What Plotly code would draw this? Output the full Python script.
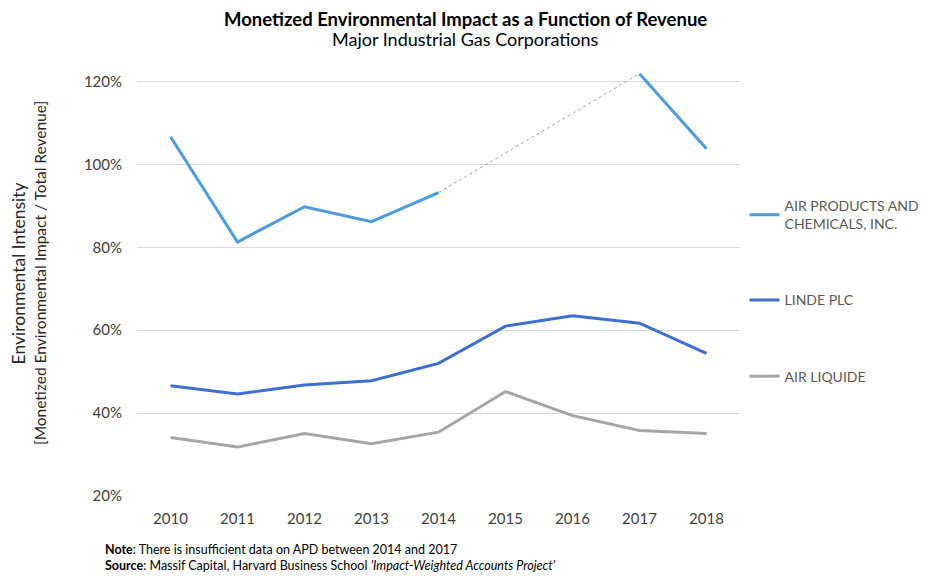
import plotly.graph_objects as go

# --- data (percent of revenue) ---
years = ["2010", "2011", "2012", "2013", "2014", "2015", "2016", "2017", "2018"]
apd = [106.7, 81.3, 89.8, 86.2, 93.2, None, None, 121.9, 103.8]
linde = [46.6, 44.6, 46.8, 47.8, 52.0, 61.0, 63.5, 61.7, 54.4]
air_liquide = [34.1, 31.8, 35.1, 32.6, 35.4, 45.2, 39.4, 35.8, 35.1]

names = ["AIR PRODUCTS AND<br>CHEMICALS, INC.", "LINDE PLC", "AIR LIQUIDE"]
colors = ["#4A9BE0", "#3F6ED3", "#A5A5A5"]
y_ticks = [20, 40, 60, 80, 100, 120]
y_tick_text = [f"{v}%" for v in y_ticks]

FONT = "Lato"

fig = go.Figure()

for i, series in enumerate([apd, linde, air_liquide]):
    fig.add_trace(go.Scatter(
        x=years, y=series, mode="lines", name=names[i],
        line=dict(color=colors[i], width=3),
        connectgaps=False, legendgroup=str(i),
    ))

# dotted bridge over the missing APD years
fig.add_trace(go.Scatter(
    x=[years[4], years[7]], y=[apd[4], apd[7]], mode="lines",
    line=dict(color="#A6A6A6", width=1, dash="dot"),
    showlegend=False, hoverinfo="skip",
))

# page has an 8px body margin, so the figure is sized to fit the window
fig.update_layout(
    width=923, height=574,
    margin=dict(l=129, r=191, t=57, b=86, autoexpand=False),
    plot_bgcolor="white", paper_bgcolor="white",
    font=dict(family=FONT, color="#404040", size=14),
    showlegend=True,
    legend=dict(
        xref="container", yref="container",
        x=0.798, y=0.683, xanchor="left", yanchor="top",
        font=dict(size=14, color="#595959"),
        tracegroupgap=55, itemwidth=30,
        bgcolor="rgba(0,0,0,0)",
    ),
    xaxis=dict(
        type="category", range=[-0.5, 8.5],
        showgrid=False, showline=False, ticks="",
        tickfont=dict(size=15, color="#404040"),
        ticklabelstandoff=12,
    ),
    yaxis=dict(
        range=[20, 124], tickvals=y_ticks, ticktext=y_tick_text,
        showgrid=True, gridcolor="#D9D9D9", gridwidth=1,
        zeroline=False, showline=False, ticks="",
        tickfont=dict(size=15, color="#404040"),
        ticklabelstandoff=14,
    ),
)

# axis title, two lines of different sizes
fig.add_annotation(
    text="Environmental Intensity", textangle=-90,
    xref="paper", yref="paper", x=-0.197, y=0.517, xanchor="center", yanchor="middle",
    showarrow=False, font=dict(size=17.5, color="#262626"),
)
fig.add_annotation(
    text="[Monetized Environmental Impact / Total Revenue]", textangle=-90,
    xref="paper", yref="paper", x=-0.161, y=0.517, xanchor="center", yanchor="middle",
    showarrow=False, font=dict(size=15.5, color="#262626"),
)

fig.add_annotation(
    text="<b>Monetized Environmental Impact as a Function of Revenue</b>",
    xref="paper", yref="paper", x=0.545, y=1.0, xanchor="center", yanchor="middle",
    yshift=46.5, showarrow=False, font=dict(size=18.5, color="#000000"),
)
fig.add_annotation(
    text="Major Industrial Gas Corporations",
    xref="paper", yref="paper", x=0.545, y=1.0, xanchor="center", yanchor="middle",
    yshift=26.5, showarrow=False, font=dict(size=18, color="#000000"),
)
fig.add_annotation(
    text="<b>Note</b>: There is insufficient data on APD between 2014 and 2017<br>"
         "<b>Source</b>: Massif Capital, Harvard Business School "
         "<i>'Impact-Weighted Accounts Project'</i>",
    xref="paper", yref="paper", x=-0.057, y=0, xanchor="left", yanchor="top",
    yshift=-44, align="left", showarrow=False,
    font=dict(size=12.5, color="#000000"),
)

fig.write_html("out.html")
